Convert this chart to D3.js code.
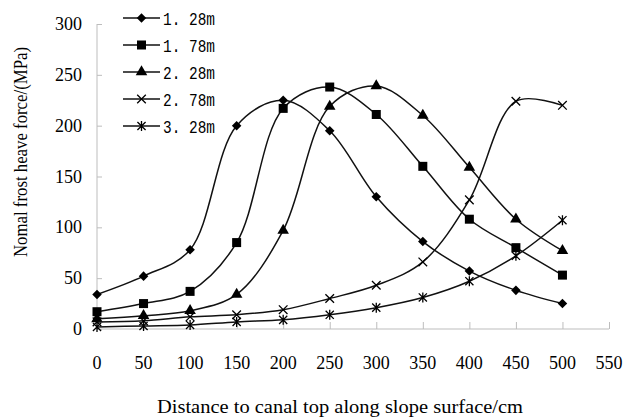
<!DOCTYPE html>
<html>
<head>
<meta charset="utf-8">
<script src="https://cdn.jsdelivr.net/npm/d3@7"></script>
<style>
  body { margin: 0; background: #fff; }
  svg { display: block; }
</style>
</head>
<body>
<svg width="623" height="420"></svg>
<script>
// distances along slope (cm)
const distances = [0, 50, 100, 150, 200, 250, 300, 350, 400, 450, 500];
const xTicks = [0, 50, 100, 150, 200, 250, 300, 350, 400, 450, 500, 550];
const yTicks = [0, 50, 100, 150, 200, 250, 300];

// frost heave force per depth (MPa)
const seriesNames = ["1. 28m", "1. 78m", "2. 28m", "2. 78m", "3. 28m"];
const s128 = [34, 52, 78, 200, 225, 195, 130, 86, 57, 38, 25];
const s178 = [17, 25, 37, 85, 217, 238, 211, 160, 108, 80, 53];
const s228 = [10, 13, 18, 34, 97, 219, 239, 210, 159, 108, 77];
const s278 = [7, 8, 12, 14, 19, 30, 43, 66, 127, 224, 220];
const s328 = [2, 3, 4, 7, 9, 14, 21, 31, 47, 72, 107];
const markers = ["diamond", "square", "triangle", "cross", "star"];

const allSeries = [s128, s178, s228, s278, s328];

const svg = d3.select("svg");
const serif = "'Liberation Serif', 'Times New Roman', serif";

let x = d3.scaleLinear().domain([0, 550]).range([97, 609]);
let y = d3.scaleLinear().domain([0, 300]).range([329, 24]);

// axes (light gray, ticks pointing inside)
const axisColor = "#bdbdbd";
let xAxis = svg.append("g")
  .attr("transform", "translate(0," + y(0) + ")")
  .call(d3.axisTop(x).tickValues(xTicks).tickSize(7).tickFormat(""));
let yAxis = svg.append("g")
  .attr("transform", "translate(" + x(0) + ",0)")
  .call(d3.axisRight(y).tickValues(yTicks).tickSize(5).tickFormat(""));
svg.selectAll(".domain, .tick line").attr("stroke", axisColor).attr("stroke-width", 1);
xAxis.select(".domain").attr("d", "M" + x(0) + ",0H" + x(550));
yAxis.select(".domain").attr("d", "M0," + y(0) + "V" + y(300));

// tick labels
svg.append("g").selectAll("text")
  .data(xTicks)
  .enter().append("text")
  .attr("x", d => x(d))
  .attr("y", 369)
  .attr("text-anchor", "middle")
  .style("font-family", serif).style("font-size", "18px")
  .text(d => d);

svg.append("g").selectAll("text")
  .data(yTicks)
  .enter().append("text")
  .attr("x", 82)
  .attr("y", d => y(d) + 6)
  .attr("text-anchor", "end")
  .style("font-family", serif).style("font-size", "18px")
  .text(d => d);

// axis titles
svg.append("text")
  .attr("x", 340)
  .attr("y", 413)
  .attr("text-anchor", "middle")
  .attr("textLength", 366)
  .attr("lengthAdjust", "spacingAndGlyphs")
  .style("font-family", serif).style("font-size", "19px")
  .text("Distance to canal top along slope surface/cm");

svg.append("text")
  .attr("transform", "translate(27,152) rotate(-90)")
  .attr("text-anchor", "middle")
  .attr("textLength", 210)
  .attr("lengthAdjust", "spacingAndGlyphs")
  .style("font-family", serif).style("font-size", "18px")
  .text("Nomal frost heave force/(MPa)");

// marker shapes
function drawMarker(g, kind, cx, cy) {
  if (kind == "diamond") {
    g.append("path").attr("d", d3.symbol().type(d3.symbolDiamond2).size(58)())
      .attr("transform", "translate(" + cx + "," + cy + ")").attr("fill", "#000");
  } else if (kind == "square") {
    g.append("rect").attr("x", cx - 4.5).attr("y", cy - 4.5).attr("width", 9).attr("height", 9).attr("fill", "#000");
  } else if (kind == "triangle") {
    g.append("path").attr("d", d3.symbol().type(d3.symbolTriangle).size(58)())
      .attr("transform", "translate(" + cx + "," + cy + ")").attr("fill", "#000");
  } else if (kind == "cross") {
    g.append("path").attr("d", d3.symbol().type(d3.symbolTimes).size(50)())
      .attr("transform", "translate(" + cx + "," + cy + ")")
      .attr("fill", "none").attr("stroke", "#000").attr("stroke-width", 1.3);
  } else {
    g.append("path").attr("d", d3.symbol().type(d3.symbolTimes).size(45)() + "M0,-5V5")
      .attr("transform", "translate(" + cx + "," + cy + ")")
      .attr("fill", "none").attr("stroke", "#000").attr("stroke-width", 1.3);
  }
}

// smoothed lines
let line = d3.line()
  .x((d, i) => x(distances[i]))
  .y(d => y(d))
  .curve(d3.curveCatmullRom.alpha(0.5));

allSeries.forEach(function(vals, k) {
  let g = svg.append("g");
  g.append("path")
    .attr("d", line(vals))
    .attr("fill", "none")
    .attr("stroke", "#111")
    .attr("stroke-width", 1.5);
  vals.forEach(function(v, i) {
    drawMarker(g, markers[k], x(distances[i]), y(v));
  });
});

// legend
let legend = svg.append("g");
seriesNames.forEach(function(name, k) {
  let ly = 18 + k * 27;
  let x0 = 123;
  let g = legend.append("g");
  g.append("line").attr("x1", x0).attr("x2", x0 + 37).attr("y1", ly).attr("y2", ly)
    .attr("stroke", "#111").attr("stroke-width", 1.5);
  drawMarker(g, markers[k], x0 + 18.5, ly);
  g.append("text")
    .attr("x", x0 + 40)
    .attr("y", ly + 7)
    .attr("textLength", 52)
    .attr("lengthAdjust", "spacingAndGlyphs")
    .style("font-family", "'Liberation Mono', monospace").style("font-size", "18px")
    .text(name);
});
</script>
</body>
</html>
